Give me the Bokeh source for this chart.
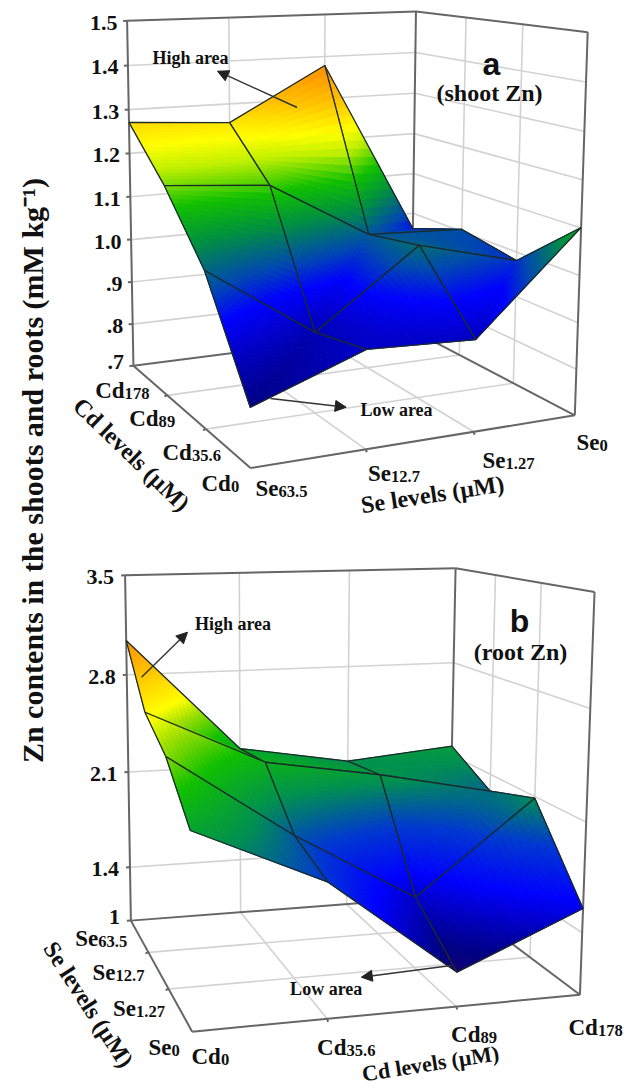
import numpy as np
from bokeh.plotting import figure
from bokeh.models import Range1d, Arrow, NormalHead
from bokeh.core.properties import value
from bokeh.embed import file_html
from bokeh.resources import INLINE

# --- data -----------------------------------------------------------------
SE_TICKS_A = ["63.5", "12.7", "1.27", "0"]
CD_TICKS_A = ["0", "35.6", "89", "178"]
ZTICKS_A = [0.7, 0.8, 0.9, 1.0, 1.1, 1.2, 1.3, 1.4, 1.5]
ZLABELS_A = [".7", ".8", ".9", "1.0", "1.1", "1.2", "1.3", "1.4", "1.5"]
# rows Cd0 .. Cd178, columns Se63.5 .. Se0
SHOOT_CD0 = [0.820, 0.903, 0.893, 1.101]
SHOOT_CD36 = [1.032, 0.875, 1.038, 0.981]
SHOOT_CD89 = [1.165, 1.147, 1.015, 1.005]
SHOOT_CD178 = [1.271, 1.256, 1.379, 0.961]

CD_TICKS_B = ["0", "35.6", "89", "178"]
SE_TICKS_B = ["0", "1.27", "12.7", "63.5"]
ZTICKS_B = [1.0, 1.4, 2.1, 2.8, 3.5]
ZLABELS_B = ["1", "1.4", "2.1", "2.8", "3.5"]
# rows Se0 .. Se63.5, columns Cd0 .. Cd178
ROOT_SE0 = [2.202, 1.840, 1.218, 1.555]
ROOT_SE127 = [2.491, 1.941, 1.476, 2.089]
ROOT_SE127B = [2.649, 2.271, 2.141, 1.980]
ROOT_SE635 = [3.043, 2.230, 2.095, 2.168]

STOPS_A = [(0.78, "#000064"), (0.90, "#0000c8"), (0.95, "#0000ff"), (1.00, "#0048b0"),
           (1.07, "#009040"), (1.13, "#10c000"), (1.19, "#c0f000"), (1.23, "#ffff00"),
           (1.30, "#ffc000"), (1.40, "#ff8000")]
STOPS_B = [(1.15, "#2a0070"), (1.30, "#000080"), (1.60, "#0000ff"), (1.85, "#0038d0"),
           (2.10, "#009050"), (2.35, "#10c000"), (2.52, "#a0e000"), (2.62, "#ffff00"),
           (2.85, "#ffc000"), (3.05, "#ff9000")]

SERIF = value("Liberation Serif")
SANS = value("Liberation Sans")
FRAME = "#666666"
GRID = "#d2d2d2"
EDGE = "#1c2a2a"
INK = "#111111"

p = figure(width=632, height=1088, x_range=Range1d(0, 632), y_range=Range1d(1088, 0),
           output_backend="svg", toolbar_location=None, min_border=0,
           outline_line_color=None)
p.xaxis.visible = False
p.yaxis.visible = False
p.grid.visible = False


def fit_camera(corners):
    A, b = [], []
    for (X, Y, Z), (x, y) in corners:
        A.append([X, Y, Z, 1, 0, 0, 0, 0, -x * X, -x * Y, -x * Z]); b.append(x)
        A.append([0, 0, 0, 0, X, Y, Z, 1, -y * X, -y * Y, -y * Z]); b.append(y)
    m = np.linalg.lstsq(np.array(A, float), np.array(b, float), rcond=None)[0]
    return np.append(m, 1).reshape(3, 4)


def hex_rgb(h):
    return np.array([int(h[i:i + 2], 16) for i in (1, 3, 5)], float)


def colour(val, stops):
    xs = [s[0] for s in stops]
    cs = np.array([hex_rgb(s[1]) for s in stops])
    rgb = [np.interp(val, xs, cs[:, k]) for k in range(3)]
    return "#%02x%02x%02x" % tuple(int(round(c)) for c in rgb)


def side(a, b, c):
    return (b[0] - a[0]) * (c[1] - a[1]) - (b[1] - a[1]) * (c[0] - a[0])


def panel(corners, rows, zticks, zlabels, zlo, zhi, stops, labx, laby):
    M = fit_camera(corners)

    def P(u, v, z):
        q = M @ np.array([u, v, (z - zlo) / (zhi - zlo), 1.0])
        return q[0] / q[2], q[1] / q[2]

    def seg(a, b):
        return [a[0], b[0]], [a[1], b[1]]

    # walls and floor grid
    gx, gy = [], []
    for t in (1 / 3, 2 / 3):
        for a, b in (((t, 1, zlo), (t, 1, zhi)), ((1, t, zlo), (1, t, zhi)),
                     ((t, 0, zlo), (t, 1, zlo)), ((0, t, zlo), (1, t, zlo))):
            xs, ys = seg(P(*a), P(*b)); gx.append(xs); gy.append(ys)
    for z in zticks[1:-1]:
        for a, b in (((0, 1, z), (1, 1, z)), ((1, 1, z), (1, 0, z))):
            xs, ys = seg(P(*a), P(*b)); gx.append(xs); gy.append(ys)
    p.multi_line(gx, gy, line_color=GRID, line_width=1.6)

    fx, fy = [], []
    for a, b in (((0, 1, zhi), (1, 1, zhi)), ((1, 1, zhi), (1, 0, zhi)), ((0, 1, zlo), (0, 1, zhi)),
                 ((1, 1, zlo), (1, 1, zhi)), ((1, 0, zlo), (1, 0, zhi)), ((0, 1, zlo), (1, 1, zlo)),
                 ((1, 1, zlo), (1, 0, zlo)), ((0, 1, zlo), (0, 0, zlo)), ((0, 0, zlo), (1, 0, zlo))):
        xs, ys = seg(P(*a), P(*b)); fx.append(xs); fy.append(ys)
    # axis ticks
    for z in zticks:
        x0, y0 = P(0, 1, z)
        fx.append([x0 - 4, x0]); fy.append([y0 + 0.2, y0])
    for t in (1 / 3, 2 / 3):
        a = P(t, 0, zlo); fx.append([a[0], a[0] + 1]); fy.append([a[1], a[1] + 3])
        a = P(0, t, zlo); fx.append([a[0], a[0] - 3]); fy.append([a[1], a[1] + 1])
    p.multi_line(fx, fy, line_color=FRAME, line_width=2)

    # surface, back cell to front cell
    Z = np.array(rows, float)
    n = 20
    cells = sorted([(i, j) for i in range(3) for j in range(3)], key=lambda c: -(c[0] + c[1]))
    for i, j in cells:
        px, py, col = [], [], []
        corner3 = [np.array([(i + s) / 3, (j + t) / 3, Z[j + t, i + s]]) for s, t in ((0, 0), (1, 0), (1, 1), (0, 1))]
        scr = [P(*q) for q in corner3]

        def add(pts):
            sc = [P(*q) for q in pts]
            px.append([q[0] for q in sc])
            py.append([q[1] for q in sc])
            col.append(colour(sum(q[2] for q in pts) / len(pts), stops))

        ac_ok = side(scr[0], scr[2], scr[1]) * side(scr[0], scr[2], scr[3]) < 0
        bd_ok = side(scr[1], scr[3], scr[0]) * side(scr[1], scr[3], scr[2]) < 0
        if ac_ok and bd_ok:
            # convex on screen: a smooth bilinear sheet
            def pt(s, t):
                return ((1 - s) * (1 - t) * corner3[0] + s * (1 - t) * corner3[1]
                        + s * t * corner3[2] + (1 - s) * t * corner3[3])
            for a in range(n):
                for b in range(n):
                    add([pt(a / n, b / n), pt((a + 1) / n, b / n),
                         pt((a + 1) / n, (b + 1) / n), pt(a / n, (b + 1) / n)])
        else:
            # concave on screen: two flat triangles split on the inner diagonal
            tris = ([(0, 1, 2), (0, 2, 3)] if ac_ok else [(0, 1, 3), (1, 2, 3)])
            for ta, tb, tc in tris:
                A, B, C = corner3[ta], corner3[tb], corner3[tc]

                def bar(a, b):
                    return A + (B - A) * a / n + (C - A) * b / n
                for a in range(n):
                    for b in range(n - a):
                        add([bar(a, b), bar(a + 1, b), bar(a, b + 1)])
                        if a + b < n - 1:
                            add([bar(a + 1, b), bar(a + 1, b + 1), bar(a, b + 1)])
        p.patches(px, py, fill_color=col, line_color=col, line_width=1.0)
        ex, ey = [q[0] for q in scr] + [scr[0][0]], [q[1] for q in scr] + [scr[0][1]]
        p.line(ex, ey, line_color=EDGE, line_width=1.3)

    # z tick labels
    for k, (z, lab) in enumerate(zip(zticks, zlabels)):
        x0, y0 = P(0, 1, z)
        p.text([x0 + labx], [y0 + (laby if k else laby - 6)], text=[lab], text_font=SERIF, text_font_style="bold",
               text_font_size="22px", text_color=INK, text_align="right", text_baseline="middle")


def label(x, y, main, sub, k, size=23):
    p.text([x], [y], text=[main], text_font=SERIF, text_font_style="bold",
           text_font_size=f"{size}px", text_color=INK, text_baseline="alphabetic")
    p.text([x + k * size], [y + 3], text=[sub], text_font=SERIF, text_font_style="bold",
           text_font_size=f"{size * 0.72:.1f}px", text_color=INK, text_baseline="alphabetic")


def free(x, y, s, size=22, angle=0.0, font=SERIF, style="bold"):
    p.text([x], [y], text=[s], text_font=font, text_font_style=style, text_font_size=f"{size}px",
           text_color=INK, text_align="center", text_baseline="middle", angle=np.radians(angle))


def arrow(x0, y0, x1, y1):
    p.add_layout(Arrow(end=NormalHead(size=11, fill_color="#222222", line_color="#222222"),
                       x_start=x0, y_start=y0, x_end=x1, y_end=y1,
                       line_color="#333333", line_width=1.4))


CORNERS_A = [((0, 1, 1), (126, 20)), ((1, 1, 1), (417, 11)), ((1, 0, 1), (586, 32)), ((0, 1, 0), (134, 366)),
             ((1, 0, 0), (576, 415)), ((0, 0, 0), (249.4, 467)), ((1, 1, 0), (409, 329))]
CORNERS_B = [((0, 1, 1), (123.8, 574)), ((1, 1, 1), (457.7, 568.3)), ((1, 0, 1), (591.7, 591.7)), ((0, 1, 0), (131.7, 922.3)),
             ((1, 0, 0), (582.3, 995.7)), ((0, 0, 0), (191, 1029.3)), ((1, 1, 0), (445.3, 894))]

panel(CORNERS_A, [SHOOT_CD0, SHOOT_CD36, SHOOT_CD89, SHOOT_CD178], ZTICKS_A, ZLABELS_A, 0.7, 1.5, STOPS_A, -9.5, 2)
panel(CORNERS_B, [ROOT_SE0, ROOT_SE127, ROOT_SE127B, ROOT_SE635], ZTICKS_B, ZLABELS_B, 1.0, 3.5, STOPS_B, -11, 2)

# axis category labels, panel a
for (x, y), s in zip([(255, 488), (367.5, 473), (482, 460), (576, 442)], SE_TICKS_A):
    label(x, y, "Se", s, 1.0)
for (x, y), s in zip([(201, 483), (162, 452), (128.7, 418), (94.7, 390)], CD_TICKS_A):
    label(x, y, "Cd", s, 1.278)
# panel b
for (x, y), s in zip([(191, 1056), (316.6, 1047), (450.6, 1034), (568, 1026.7)], CD_TICKS_B):
    label(x, y, "Cd", s, 1.278)
for (x, y), s in zip([(148, 1046.7), (112.5, 1008), (92, 971.7), (74.7, 938)], SE_TICKS_B):
    label(x, y, "Se", s, 1.0)

free(131, 454, "Cd levels (\u00b5M)", 24, -44)
free(432, 494, "Se levels (\u00b5M)", 24, 8.7)
free(88, 1004, "Se levels (\u00b5M)", 24, -57)
free(430, 1063, "Cd levels (\u00b5M)", 22, 8.8)

free(491, 63, "a", 32, font=SANS)
free(489, 92, "(shoot Zn)", 24)
free(519, 620, "b", 32, font=SANS)
free(520, 651, "(root Zn)", 24)

free(190, 57, "High area", 18)
free(396, 409, "Low area", 18)
free(232.5, 623, "High area", 18)
free(325.7, 988, "Low area", 18)
arrow(296.6, 107, 217, 70.7)
arrow(270, 398, 345.7, 406.7)
arrow(141, 676.7, 187, 631.7)
arrow(451, 965, 360.8, 976.7)

free(32, 470, "Zn contents in the shoots and roots (mM kg\u207b\u00b9)", 30, 90)

open("out.html", "w").write(file_html(p, INLINE))
